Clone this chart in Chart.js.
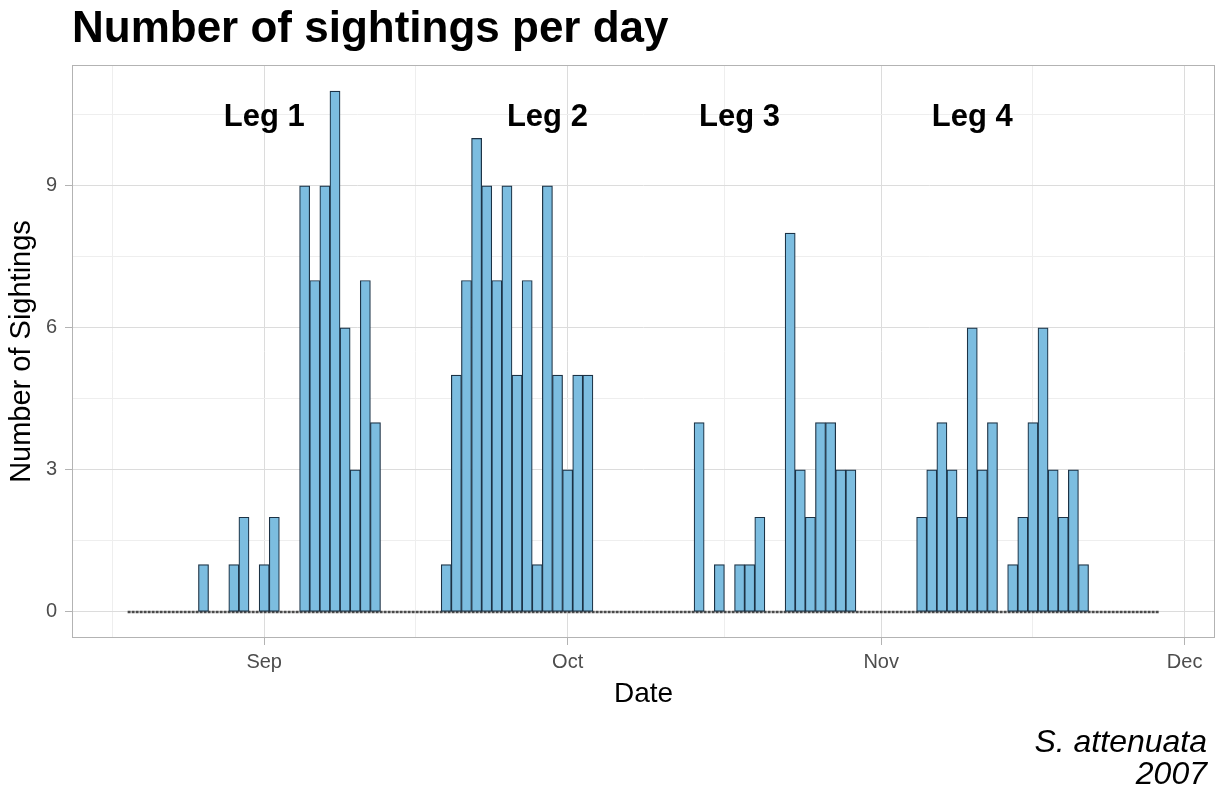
<!DOCTYPE html>
<html>
<head>
<meta charset="utf-8">
<script src="https://cdn.jsdelivr.net/npm/chart.js@4.4.0/dist/chart.umd.min.js"></script>
<style>
  html, body { margin: 0; padding: 0; background: #fff; }
  #wrap { width: 1225px; height: 790px; }
</style>
</head>
<body>
<div id="wrap"><canvas id="chart" width="1225" height="790"></canvas></div>
<script>
// daily sightings, one value per day starting on startDate
const startDate = '2007-08-19';
const sightings = [
  0, 0, 0, 0, 0, 0, 0, 1, 0, 0,
  1, 2, 0, 1, 2, 0, 0, 9, 7, 9,
  11, 6, 3, 7, 4, 0, 0, 0, 0, 0,
  0, 1, 5, 7, 10, 9, 7, 9, 5, 7,
  1, 9, 5, 3, 5, 5, 0, 0, 0, 0,
  0, 0, 0, 0, 0, 0, 4, 0, 1, 0,
  1, 1, 2, 0, 0, 8, 3, 2, 4, 4,
  3, 3, 0, 0, 0, 0, 0, 0, 2, 3,
  4, 3, 2, 6, 3, 4, 0, 1, 2, 4,
  6, 3, 2, 3, 1, 0, 0, 0, 0, 0,
  0, 0
];

// x axis: days counted from 1 Sep 2007
const monthDates = ['2007-09-01', '2007-10-01', '2007-11-01', '2007-12-01'];
const monthLabels = ['Sep', 'Oct', 'Nov', 'Dec'];
const minorDays = [-15, 15, 45.5, 76];
const yMajor = [0, 3, 6, 9];
const yMinor = [1.5, 4.5, 7.5, 10.5];

const legLabels = ['Leg 1', 'Leg 2', 'Leg 3', 'Leg 4'];
const legDates = ['2007-09-01', '2007-09-29', '2007-10-18', '2007-11-10'];
const legHeight = 10.45;

const FONT = '"Liberation Sans", Arial, Helvetica, sans-serif';
const origin = Date.UTC(2007, 8, 1);
function dayOf(s) {
  return Math.round((new Date(s + 'T00:00:00Z').getTime() - origin) / 86400000);
}

const firstDay = dayOf(startDate);
const days = sightings.map((v, i) => firstDay + i);
const monthDays = monthDates.map(dayOf);
const legDays = legDates.map(dayOf);

const GRID_MAJOR = '#dcdcdc';
const GRID_MINOR = '#eeeeee';
const AXIS_GREY = '#b3b3b3';

const overlay = {
  id: 'overlay',
  afterDraw(chart) {
    const { ctx, chartArea: a, scales } = chart;
    ctx.save();
    // panel border
    ctx.strokeStyle = AXIS_GREY;
    ctx.lineWidth = 1;
    ctx.strokeRect(a.left + 0.5, a.top + 0.5, a.right - a.left - 1, a.bottom - a.top - 1);

    // leg labels
    ctx.fillStyle = '#000';
    ctx.font = 'bold 31px ' + FONT;
    ctx.textAlign = 'center';
    ctx.textBaseline = 'middle';
    legLabels.forEach((t, i) => {
      ctx.fillText(t, scales.x.getPixelForValue(legDays[i]), scales.y.getPixelForValue(legHeight));
    });

    // title
    ctx.textAlign = 'left';
    ctx.textBaseline = 'alphabetic';
    ctx.font = 'bold 44px ' + FONT;
    ctx.fillText('Number of sightings per day', a.left, 42);

    // caption
    ctx.textAlign = 'right';
    ctx.font = 'italic 32px ' + FONT;
    ctx.fillText('S. attenuata', 1207, 752);
    ctx.fillText('2007', 1207, 784);
    ctx.restore();
  }
};

new Chart(document.getElementById('chart'), {
  type: 'bar',
  data: {
    datasets: [
      {
        type: 'bar',
        data: days.map((d, i) => ({ x: d, y: sightings[i] })),
        backgroundColor: '#7cbde0',
        borderColor: '#1c3245',
        borderWidth: 1.2,
        borderSkipped: false,
        barPercentage: 1,
        categoryPercentage: 1,
        order: 1
      },
      {
        type: 'line',
        data: [{ x: days[0] - 0.5, y: 0 }, { x: days[days.length - 1] + 0.5, y: 0 }],
        borderColor: '#4a4a4a',
        borderWidth: 2.5,
        borderDash: [3, 1],
        pointRadius: 0,
        order: 2
      }
    ]
  },
  options: {
    responsive: false,
    animation: false,
    devicePixelRatio: 1,
    layout: { padding: { top: 65, right: 10, left: 0, bottom: 0 } },
    plugins: { legend: { display: false }, tooltip: { enabled: false } },
    scales: {
      x: {
        type: 'linear',
        min: -19,
        max: 94,
        offset: false,
        afterBuildTicks: s => { s.ticks = monthDays.concat(minorDays).sort((p, q) => p - q).map(v => ({ value: v })); },
        afterFit: s => { s.height = 152; },
        border: { display: false },
        grid: {
          offset: false,
          color: c => monthDays.includes(c.tick && c.tick.value) ? GRID_MAJOR : GRID_MINOR,
          tickColor: c => monthDays.includes(c.tick && c.tick.value) ? AXIS_GREY : 'rgba(0,0,0,0)',
          tickLength: 7,
          lineWidth: 1
        },
        ticks: {
          autoSkip: false,
          maxRotation: 0,
          padding: 5,
          color: '#4d4d4d',
          font: { size: 20, family: FONT },
          callback: v => { const k = monthDays.indexOf(v); return k >= 0 ? monthLabels[k] : ''; }
        },
        title: {
          display: true,
          text: 'Date',
          color: '#000',
          font: { size: 28, family: FONT },
          padding: { top: 0, bottom: 79 }
        }
      },
      y: {
        min: -0.55,
        max: 11.55,
        afterBuildTicks: s => { s.ticks = yMajor.concat(yMinor).sort((p, q) => p - q).map(v => ({ value: v })); },
        afterFit: s => { s.width = 72; },
        border: { display: false },
        grid: {
          color: c => yMajor.includes(c.tick && c.tick.value) ? GRID_MAJOR : GRID_MINOR,
          tickColor: c => yMajor.includes(c.tick && c.tick.value) ? AXIS_GREY : 'rgba(0,0,0,0)',
          tickLength: 7,
          lineWidth: 1
        },
        ticks: {
          autoSkip: false,
          padding: 8,
          color: '#4d4d4d',
          font: { size: 20, family: FONT },
          callback: v => yMajor.includes(v) ? String(v) : ''
        },
        title: {
          display: true,
          text: 'Number of Sightings',
          color: '#000',
          font: { size: 29, family: FONT },
          padding: { top: 5, bottom: 0 }
        }
      }
    }
  },
  plugins: [overlay]
});
</script>
</body>
</html>
